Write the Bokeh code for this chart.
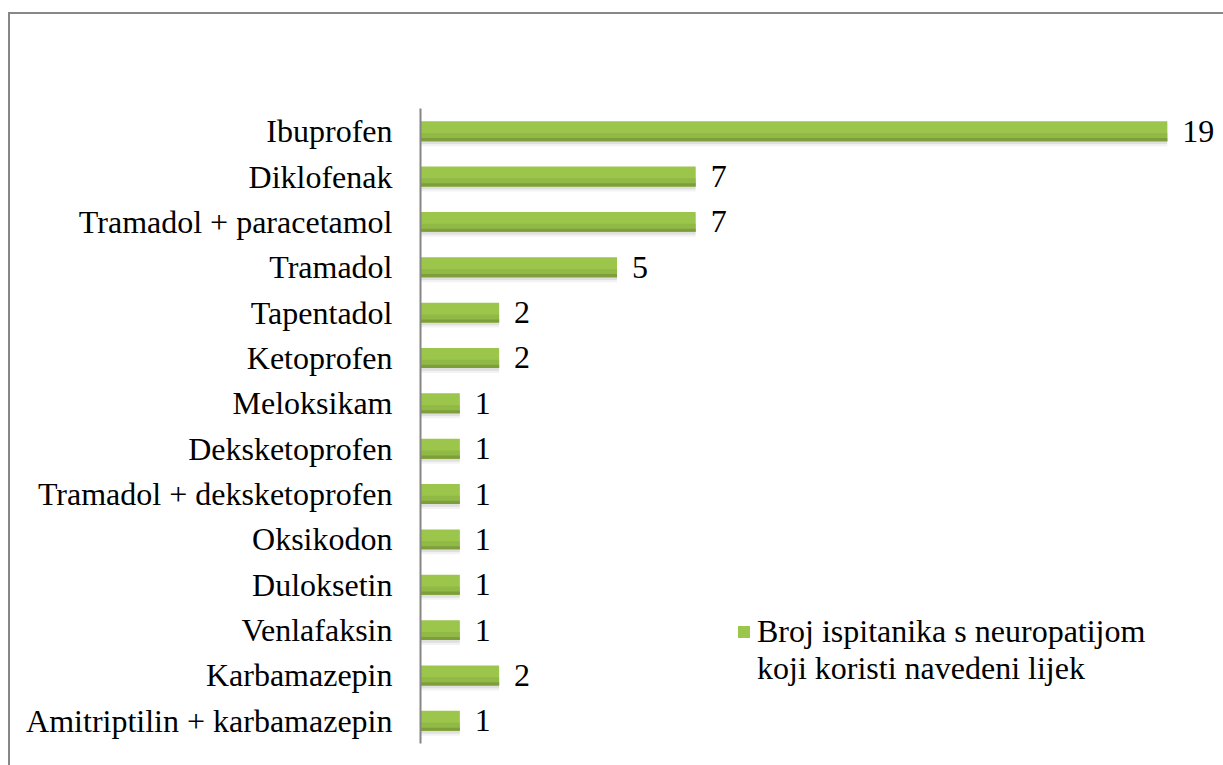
from bokeh.plotting import figure
from bokeh.models import (ColumnDataSource, FactorRange, Range1d, Legend, LegendItem,
                          InlineStyleSheet)
from bokeh.transform import dodge
from bokeh.core.properties import value
from bokeh.embed import file_html
from bokeh.resources import INLINE

drugs = ["Ibuprofen", "Diklofenak", "Tramadol + paracetamol", "Tramadol", "Tapentadol",
         "Ketoprofen", "Meloksikam", "Deksketoprofen", "Tramadol + deksketoprofen",
         "Oksikodon", "Duloksetin", "Venlafaksin", "Karbamazepin",
         "Amitriptilin + karbamazepin"]
counts = [19, 7, 7, 5, 2, 2, 1, 1, 1, 1, 1, 1, 2, 1]
series_label = ["Broj ispitanika s neuropatijom", "koji koristi navedeni lijek"]

FONT = "'Liberation Serif', 'Times New Roman', 'DejaVu Serif', serif"
FSIZE = "32px"
src = ColumnDataSource(dict(drug=drugs, n=counts, lbl=[str(c) for c in counts]))

p = figure(width=1223, height=765, output_backend="svg", toolbar_location=None,
           y_range=FactorRange(*reversed(drugs)), x_range=Range1d(0, 20.43),
           x_axis_location=None, min_border_left=420, min_border_top=108,
           min_border_right=0, min_border_bottom=22)
p.outline_line_color = None
p.grid.visible = False
p.background_fill_color = "white"
p.border_fill_color = "white"

# chart border (only its top and left edges fall inside the picture)
p.stylesheets = [InlineStyleSheet(css="""
:host::after { content: ""; position: absolute; left: 8px; top: 12px;
  width: 1300px; height: 900px; border-left: 2px solid #878787;
  border-top: 2px solid #878787; pointer-events: none; z-index: 10; }
""")]

# soft shadow under each bar
p.hbar(y=dodge("drug", -0.08, range=p.y_range), right="n", left=0, height=0.5,
       source=src, fill_color="black", fill_alpha=0.05, line_color=None)
p.hbar(y=dodge("drug", -0.05, range=p.y_range), right="n", left=0, height=0.46,
       source=src, fill_color="black", fill_alpha=0.08, line_color=None)

# bars with a simulated vertical gradient (lighter top, darker lower edge)
bars = p.hbar(y="drug", right="n", left=0, height=0.44, source=src,
              fill_color="#9cc54b", line_color=None)
p.hbar(y=dodge("drug", -0.13, range=p.y_range), right="n", left=0, height=0.18,
       source=src, fill_color="#8fb545", fill_alpha=0.8, line_color=None)
p.hbar(y=dodge("drug", -0.185, range=p.y_range), right="n", left=0, height=0.07,
       source=src, fill_color="#7b9b39", fill_alpha=0.9, line_color=None)

p.text(x="n", y="drug", text="lbl", source=src, x_offset=15, text_baseline="middle",
       text_font=value(FONT), text_font_size=FSIZE, text_color="black")

ax = p.yaxis[0]
ax.axis_line_color = "#868686"
ax.axis_line_width = 2
ax.major_tick_line_color = None
ax.minor_tick_line_color = None
ax.major_label_text_font = FONT
ax.major_label_text_font_size = FSIZE
ax.major_label_text_color = "black"
ax.major_label_standoff = 22

blank = p.hbar(y=[drugs[0]], right=[0], left=0, height=0.1, fill_alpha=0, line_alpha=0)
legend = Legend(items=[LegendItem(label=series_label[0], renderers=[bars]),
                       LegendItem(label=series_label[1], renderers=[blank])],
                location=(316, 56), orientation="vertical",
                label_text_font=FONT, label_text_font_size=FSIZE,
                label_text_color="black", glyph_width=15, glyph_height=15,
                label_standoff=6, padding=0, margin=0, spacing=0,
                border_line_color=None, background_fill_alpha=0)
p.add_layout(legend)

open("out.html", "w").write(file_html(p, INLINE))
